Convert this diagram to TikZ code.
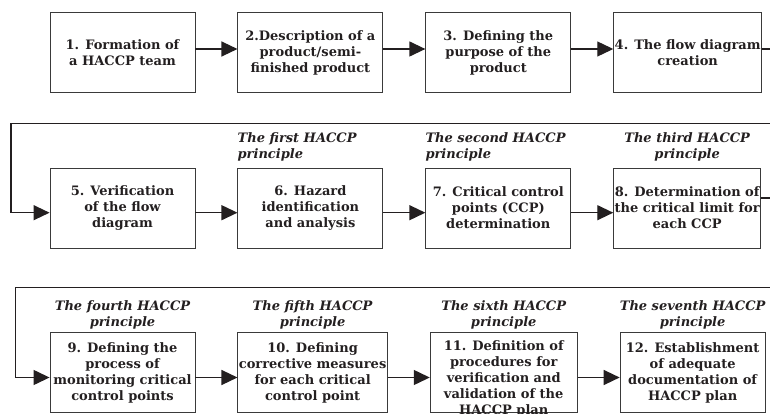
\documentclass[tikz,border=0pt]{standalone}
\usepackage{fontspec}
\setmainfont{DejaVu Serif}
\usepackage{xcolor}
\usepackage{tikz}
\usetikzlibrary{positioning, arrows.meta}
\definecolor{fInk}{HTML}{231F20}
\definecolor{fLine}{HTML}{3A3A3A}
\tikzset{
  stagebox/.style={draw=fLine, line width=0.9pt, minimum width=145pt, minimum height=80pt,
    inner sep=1pt, font=\fontsize{13}{16}\selectfont\bfseries, align=center, text=fInk},
  princ/.style={inner sep=0pt, font=\fontsize{13}{16}\selectfont\bfseries\itshape, text=fInk},
  flow/.style={draw=fInk, line width=1.3pt, -{Triangle[length=16pt,width=15pt]}},
}

\begin{document}
\begin{tikzpicture}[x=1pt, y=-1pt]
        \useasboundingbox (0,0) rectangle (770,414);
        \clip (0,0) rectangle (770,414);
        % first row
        \node[stagebox] (b1) at (122.5,52.5) {1. Formation of\\a HACCP team};
        \node[stagebox, right=42pt of b1] (b2) {2.Description of a\\product/semi-\\finished product};
        \node[stagebox, right=42pt of b2] (b3) {3. Defining the\\purpose of the\\product};
        \node[stagebox, right=42pt of b3] (b4) {4. The flow diagram\\creation};
        % second row
        \node[stagebox] (b5) at (122.5,208) {5. Verification\\of the flow\\diagram};
        \node[stagebox, right=42pt of b5] (b6) {6. Hazard\\identification\\and analysis};
        \node[stagebox, right=42pt of b6] (b7) {7. Critical control\\points (CCP)\\determination};
        \node[stagebox, right=42pt of b7] (b8) {8. Determination of\\the critical limit for\\each CCP};
        % third row
        \node[stagebox] (b9) at (122.5,372.5) {9. Defining the\\process of\\monitoring critical\\control points};
        \node[stagebox, right=42pt of b9] (b10) {10. Defining\\corrective measures\\for each critical\\control point};
        \node[stagebox, right=42pt of b10] (b11) {\parbox[c][64pt][t]{145pt}{\centering 11. Definition of\\procedures for\\verification and\\validation of the\\HACCP plan}};
        \node[stagebox, right=42pt of b11] (b12) {12. Establishment\\of adequate\\documentation of\\HACCP plan};
        % principles
        \node[princ, anchor=south west, align=left] (p1) at ([yshift=6pt]b6.north west) {The first HACCP\\principle};
        \node[princ, anchor=south west, align=left] (p2) at ([yshift=6pt]b7.north west) {The second HACCP\\principle};
        \node[princ, anchor=south, align=center] (p3) at ([yshift=6pt]b8.north) {The third HACCP\\principle};
        \node[princ, anchor=south, align=center] (p4) at ([yshift=3pt]b9.north) {The fourth HACCP\\principle};
        \node[princ, anchor=south, align=center] (p5) at ([yshift=3pt]b10.north) {The fifth HACCP\\principle};
        \node[princ, anchor=south, align=center] (p6) at ([yshift=3pt]b11.north) {The sixth HACCP\\principle};
        \node[princ, anchor=south, align=center] (p7) at ([yshift=3pt]b12.north) {The seventh HACCP\\principle};
        % connectors
        \coordinate (back1) at (11,123.5);
        \coordinate (back2) at (15.5,287.5);
        \draw[flow] ([yshift=3.5pt]b1.east) -- ([yshift=3.5pt]b2.west);
        \draw[flow] ([yshift=3.5pt]b2.east) -- ([yshift=3.5pt]b3.west);
        \draw[flow] ([yshift=3.5pt]b3.east) -- ([yshift=3.5pt]b4.west);
        \draw[flow] ([yshift=3.5pt]b4.east) -- ++(40,0) |- (back1) |- ([yshift=-4.7pt]b5.west);
        \draw[flow] ([yshift=-4.7pt]b5.east) -- ([yshift=-4.7pt]b6.west);
        \draw[flow] ([yshift=-4.7pt]b6.east) -- ([yshift=-4.7pt]b7.west);
        \draw[flow] ([yshift=-4.7pt]b7.east) -- ([yshift=-4.7pt]b8.west);
        \draw[flow] ([yshift=10pt]b8.east) -- ++(40,0) |- (back2) |- ([yshift=-5pt]b9.west);
        \draw[flow] ([yshift=-5pt]b9.east) -- ([yshift=-5pt]b10.west);
        \draw[flow] ([yshift=-5pt]b10.east) -- ([yshift=-5pt]b11.west);
        \draw[flow] ([yshift=-5pt]b11.east) -- ([yshift=-5pt]b12.west);
      \end{tikzpicture}
\end{document}
